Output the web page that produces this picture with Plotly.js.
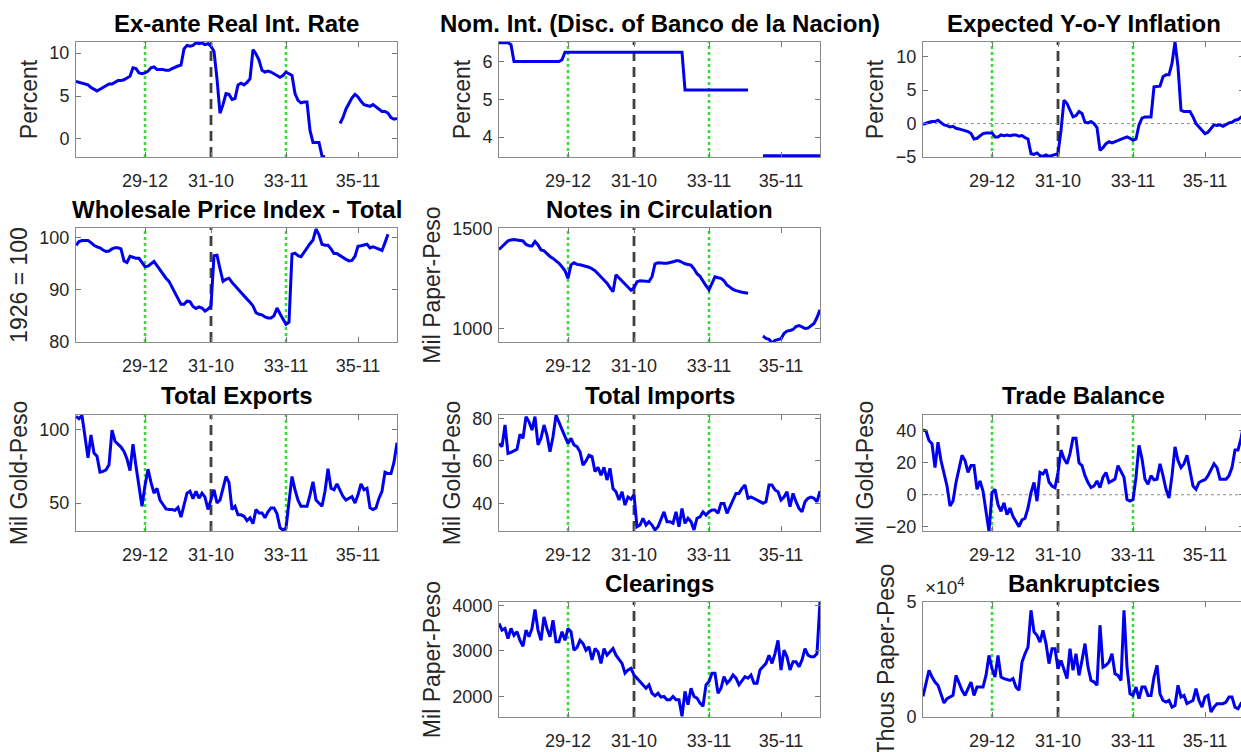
<!DOCTYPE html>
<html><head><meta charset="utf-8">
<script src="https://cdn.plot.ly/plotly-3.0.1.min.js"></script>
<style>html,body{margin:0;padding:0;overflow:hidden;background:#fff}#chart{width:1260px;height:752px}</style>
</head><body><div id="chart"></div>
<script>
// ---- categories (monthly, 1928-01 .. 1936-12) ----
const startYear = 1928, nMonths = 108;
const months = [];
for (let i = 0; i < nMonths; i++) {
  const y = startYear + Math.floor(i / 12), m = i % 12 + 1;
  months.push(String(y % 100).padStart(2, '0') + '-' + String(m).padStart(2, '0'));
}
const tickLabels = ['29-12', '31-10', '33-11', '35-11'];
const greenEvents = ['29-12', '33-11'];
const blackEvents = ['31-10'];

// ---- series ----
const realRate = [6.7,6.6,6.5,6.4,6.3,6.0,5.8,5.6, 5.8,6.0,6.2,6.4,6.4,6.6,6.8,6.8, 6.9,7.1,7.3,8.3,8.2,7.7,7.6,7.7,
 7.9,8.3,8.4,8.1,8.1,8.1,8.0,8.0, 8.2,8.4,8.5,8.6,10.5,10.9,10.8,10.9, 11.2,11.1,11.2,11.0,11.1,10.8,
 10.2,7.0,3.0,4.0,5.3,5.2,4.6,4.7, 6.3,6.5,6.3,6.6,7.0,10.4,9.9,9.2, 8.0,7.8,7.9,7.8,7.6,7.4,7.2,7.4,
 7.8,7.6,7.4,5.3,4.5,4.2,4.3,4.3, 1.0,-0.4,-0.4,-0.4,-2.0,-2.1, null,null,null,null, 1.8,2.5,3.5,4.2,
 4.8,5.2,4.9,4.4,4.0,3.9,3.8,4.0, 3.7,3.5,3.2,3.2,3.0,2.5,2.3,2.4];

const nomRate = [6.5,6.5,6.5,6.5,6.45,
 6.0,6.0,6.0,6.0,6.0,6.0,6.0,6.0,6.0,6.0,6.0,6.0,6.0,6.0,6.0,6.0,
 6.05,
 6.25,6.25,6.25,6.25,6.25,6.25,6.25,6.25,6.25,6.25,6.25,6.25,6.25,6.25,6.25,6.25,6.25,6.25,6.25,6.25,
 6.25,6.25,6.25,6.25,6.25,6.25,6.25,6.25,6.25,6.25,6.25,6.25,6.25,6.25,6.25,6.25,6.25,6.25,6.25,6.25,
 5.25,5.25,5.25,5.25,5.25,5.25,5.25,5.25,5.25,5.25,5.25,5.25,5.25,5.25,5.25,5.25,5.25,5.25,5.25,5.25,5.25,5.25,
 null,null,null,null,
 3.5,3.5,3.5,3.5,3.5,3.5,3.5,3.5,3.5,3.5,3.5,3.5,3.5,3.5,3.5,3.5,3.5,3.5,3.5,3.5];

const expInflation = [-0.1,0.1,0.2,0.3,0.3,0.5,0.1,-0.2, -0.3,-0.5,-0.4,-0.7,-0.8,-0.9,-1.0,-1.2,
 -1.5,-2.3,-2.2,-1.8,-1.5,-1.4,-1.4,-1.4, -2.0,-2.0,-1.7,-1.8,-1.7,-1.8,-1.7,-1.7,
 -1.9,-1.8,-2.1,-2.3,-4.5,-4.6,-4.4,-4.8, -4.9,-4.7,-4.9,-4.8,-4.7,-4.5,-1.0,3.5,
 3.0,2.0,1.0,1.2,1.8,1.5,0.2,0.1, 0.3,0.0,-0.6,-4.0,-3.6,-3.0,-2.7,-2.9,
 -2.7,-2.6,-2.4,-2.1,-2.0,-2.2,-2.5,-2.3, -0.2,0.8,1.0,1.0,1.0,5.5,5.6,5.6,
 7.0,7.3,7.3,9.0,12.2,8.5,2.0,1.8, 1.8,1.8,1.0,0.0,-0.5,-1.0,-1.5,-1.3,
 -0.8,-0.2,-0.3,-0.2,-0.4,-0.1,0.1,0.2, 0.5,0.6,1.0,1.3];

const wpi = [98.5,99.2,99.4,99.4,99.4,99.0,98.5,98.2, 98.0,97.6,97.3,97.4,97.8,98.0,98.0,97.8,
 95.5,95.2,96.4,96.2,96.0,96.0,95.3,94.4, 94.5,95.0,95.4,94.6,93.8,92.8,92.2,91.6,
 90.5,89.5,88.3,87.2,87.2,87.8,87.7,86.8, 86.4,86.7,86.5,85.9,86.3,86.9,96.5,96.6,
 94.0,91.6,92.0,92.2,91.4,90.8,90.0,89.4, 88.8,88.2,87.6,86.9,85.6,85.3,85.2,84.8,
 84.6,84.6,85.0,86.5,85.4,84.4,83.4,83.8, 96.8,97.0,96.5,96.3,97.2,98.0,98.8,99.5,
 101.6,100.5,98.7,98.5,98.5,97.8,96.9,96.9, 96.5,96.2,95.8,95.5,95.6,96.4,98.3,98.4,
 98.6,98.7,98.0,98.2,98.0,97.8,97.5,99.0, 100.6,null,null,null];

const notes = [1397,1412,1430,1440,1445,1447,1445,1443, 1440,1422,1416,1415,1437,1420,1395,1390,
 1375,1362,1352,1342,1328,1310,1290,1252, 1320,1330,1322,1320,1316,1314,1308,1300,
 1290,1275,1260,1242,1228,1205,1185,1270, 1255,1240,1225,1210,1192,1205,1235,1240,
 1238,1236,1236,1260,1325,1330,1328,1328, 1328,1330,1335,1340,1340,1333,1325,1322,
 1318,1300,1275,1262,1235,1215,1194,1225, 1260,1255,1252,1240,1218,1208,1196,1190,
 1185,1182,1180,1177,null,null,null,null, 962,950,945,928,940,945,948,975,
 987,990,995,1010,1015,1008,1000,1002, 1012,1025,1055,1094];

const exportsTot = [108.8,107.3,109.5,95,80.7,96.2,84,81.8, 71,71.5,72.5,76,99.5,92,90,88,
 85,80,72,90,75,62,47.8,62, 73,64,56.7,60,52,49,46,45.6,
 45.6,45.0,47.0,40.4,49.0,56.7,58.0,53.0, 58.0,53.3,56.7,54.0,45.6,52.0,59.0,50.0,
 52.0,60.0,68.0,64.0,45.6,47.8,42.0,42.0, 41.0,38.0,40.0,36.0,45.6,43.3,43.3,40.0,
 44.0,46.7,46.7,42.7,33.3,31.6,33.0,51.0, 68.0,59.0,52.0,47.8,47.8,47.8,55.6,64.4,
 52.0,50.0,47.8,58.0,73.3,60.0,59.0,63.0, 59.0,54.4,52.0,53.0,54.4,50.0,55.6,63.0,
 59.0,60.0,46.7,45.6,46.7,53.3,58.0,71.0, 70.0,70.0,77.8,91.0];

const importsTot = [68.2,66.7,76.9,63.5,64.0,64.6,65.5,72.5, 70.6,80.8,78.4,74.5,80.8,67.5,70.6,76.9,
 72.0,64.3,71.4,81.5,78.4,75.3,71.4,68.2, 70.6,67.5,66.7,64.3,58.0,60.0,62.7,62.0,
 55.0,57.0,53.3,57.0,51.0,56.5,47.0,45.5, 41.6,45.5,39.2,43.0,42.0,44.0,29.0,29.8,
 33.0,29.8,31.4,29.8,27.5,29.0,33.0,36.0, 31.4,31.4,30.6,36.0,29.0,37.6,30.6,33.0,
 31.4,27.5,33.0,33.7,36.0,34.5,36.0,36.9, 36.9,35.3,40.0,40.0,35.3,38.4,40.8,44.7,
 44.7,47.0,48.6,42.4,43.0,42.4,41.6,40.8, 40.0,40.8,48.6,48.6,46.3,45.5,41.6,43.0,
 45.5,38.4,44.7,40.8,37.6,36.0,40.8,42.4, 43.0,42.4,40.8,45.8];

const tradeBalance = [40.6,40.0,34.0,32.0,17.0,33.0,21.5,14.0, 5.5,-7.0,-4.0,7.7,17.0,24.7,21.5,14.0,
 18.3,18.3,3.4,8.7,2.3,-9.4,-23.0,1.3, 3.4,-6.2,-10.4,-5.0,-12.5,-8.3,-13.6,-16.8,
 -20.0,-15.7,-14.7,-8.3,1.3,7.7,-4.0,14.0, 13.0,16.0,8.0,5.5,4.5,14.0,28.0,22.6,
 19.4,25.8,35.4,35.4,20.0,18.3,12.0,7.7, 4.5,5.5,8.7,4.5,11.0,14.0,7.7,8.7,
 9.8,18.3,15.0,11.0,-3.0,-4.0,-3.0,11.0, 31.0,22.6,9.8,6.6,12.0,9.4,9.8,19.4,
 12.0,3.4,-2.0,12.0,30.0,21.5,17.0,19.4, 24.7,14.0,5.5,3.4,7.7,8.7,9.4,12.0,
 16.0,19.4,17.0,9.8,9.8,9.8,12.0,17.0, 28.0,28.0,35.4,45.0];

const clearings = [3600,3455,3490,3270,3490,3340,3420,3230, 3100,3455,3310,3490,3905,3455,3230,3745,
 3490,3310,3670,3200,3200,3420,3230,3490, 3420,3015,3070,3230,3160,3015,3090,2800,
 3050,2980,2725,3050,2905,2980,3050,2905, 2800,2725,2510,2580,2615,2470,2400,2325,
 2255,2180,2255,2070,2015,2070,1985,2000, 1930,1930,2000,1930,1930,1565,2110,1820,
 2180,2000,1965,1855,1785,2255,2325,2510, 2510,2070,2180,2435,2290,2360,2470,2400,
 2255,2360,2435,2400,2470,2290,2290,2580, 2650,2725,2905,2725,2940,3230,2580,3015,
 2870,2580,2760,2760,2650,2800,3050,2905, 2870,2870,2940,4070];

const bankruptcies = [9000,14500,20300,17400,15200,13800,10100,6100, 8000,8700,9400,18100,14500,11600,9400,12300,
 15200,9400,13000,13000,13000,18100,26800,21000, 17400,26800,17400,16700,16200,15900,16700,13000,
 11600,23900,27500,30400,46400,37000,35500,32600, 37700,31900,23200,29700,29700,21000,24600,21000,
 16700,29700,20300,27500,18100,24600,31900,21700, 15900,15200,13800,39900,21700,22500,23900,27500,
 18800,18100,15900,46400,21700,10100,9400,13000, 8000,13000,13000,9400,9400,17400,22500,10100,
 7200,6500,7200,4300,5000,13800,8700,9400, 5800,6500,7200,12300,7200,4300,8700,9400,
 2200,4300,5800,5800,5800,6500,8700,8700, 4300,3600,5800,5000];

// ---- panel definitions ----
const panels = [
  {title:'Ex-ante Real Int. Rate', ytitle:'Percent', y:realRate, row:0, col:0, range:[-2.1,11.3], tv:[0,5,10]},
  {title:'Nom. Int. (Disc. of Banco de la Nacion)', ytitle:'Percent', y:nomRate, row:0, col:1, range:[3.47,6.52], tv:[4,5,6]},
  {title:'Expected Y-o-Y Inflation', ytitle:'Percent', y:expInflation, row:0, col:2, range:[-5,12.2], tv:[-5,0,5,10], zero:true},
  {title:'Wholesale Price Index - Total', ytitle:'1926 = 100', y:wpi, row:1, col:0, range:[80,101.8], tv:[80,90,100]},
  {title:'Notes in Circulation', ytitle:'Mil Paper-Peso', y:notes, row:1, col:1, range:[932,1505], tv:[1000,1500]},
  {title:'Total Exports', ytitle:'Mil Gold-Peso', y:exportsTot, row:2, col:0, range:[31,109.8], tv:[50,100]},
  {title:'Total Imports', ytitle:'Mil Gold-Peso', y:importsTot, row:2, col:1, range:[27,81.6], tv:[40,60,80]},
  {title:'Trade Balance', ytitle:'Mil Gold-Peso', y:tradeBalance, row:2, col:2, range:[-22.7,50], tv:[-20,0,20,40], zero:true},
  {title:'Clearings', ytitle:'Mil Paper-Peso', y:clearings, row:3, col:1, range:[1550,4070], tv:[2000,3000,4000]},
  {title:'Bankruptcies', ytitle:'Thous Paper-Peso', y:bankruptcies, row:3, col:2, range:[0,50000], tv:[0,50000], tt:['0','5'], exp:true}
];

const W = 1260, H = 752;
const colPx = [[76,397],[499,820],[923,1244]];
const rowPx = [[42,157],[228,342],[415,531],[602,717]];
const FONT = 'Liberation Sans, Arial, Helvetica, sans-serif';
const TXT = '#262626';

const traces = [], shapes = [], annotations = [];
const layout = {
  width: W, height: H, margin:{l:0,r:0,t:0,b:0},
  paper_bgcolor:'#fff', plot_bgcolor:'#fff', showlegend:false,
  font:{family:FONT, color:TXT}
};

panels.forEach((p, i) => {
  const k = i + 1, sx = k === 1 ? '' : String(k);
  const [c0, c1] = colPx[p.col], [r0, r1] = rowPx[p.row];
  layout['xaxis' + sx] = {
    domain:[c0 / W, c1 / W], anchor:'y' + sx, type:'category',
    range:[0, nMonths - 1], tickmode:'array', tickvals:tickLabels,
    ticks:'inside', ticklen:5, tickwidth:1, tickcolor:'#777',
    showline:true, linecolor:'#8a8a8a', linewidth:1, mirror:'ticks',
    showgrid:false, zeroline:false, fixedrange:true, ticklabelstandoff:7,
    tickfont:{size:18, color:TXT, family:FONT}
  };
  const ya = {
    domain:[1 - r1 / H, 1 - r0 / H], anchor:'x' + sx,
    range:p.range, tickmode:'array', tickvals:p.tv,
    ticks:'inside', ticklen:5, tickwidth:1, tickcolor:'#777',
    showline:true, linecolor:'#8a8a8a', linewidth:1, mirror:'ticks',
    showgrid:false, zeroline:false, fixedrange:true, ticklabelstandoff:2,
    tickfont:{size:18, color:TXT, family:FONT},
    title:{text:p.ytitle, font:{size:23, color:TXT, family:FONT}, standoff:5}
  };
  if (p.tt) ya.ticktext = p.tt;
  layout['yaxis' + sx] = ya;

  traces.push({
    x: months, y: p.y, type:'scatter', mode:'lines',
    line:{color:'#0000ee', width:3}, connectgaps:false,
    xaxis:'x' + sx, yaxis:'y' + sx, hoverinfo:'skip'
  });

  greenEvents.forEach(ev => {
    const xi = months.indexOf(ev);
    shapes.push({type:'line', layer:'below', xref:'x' + sx, yref:'y' + sx + ' domain',
      x0:xi, x1:xi, y0:0, y1:1, line:{color:'#33dd33', width:2.5, dash:'dot'}});
  });
  blackEvents.forEach(ev => {
    const xi = months.indexOf(ev);
    shapes.push({type:'line', layer:'below', xref:'x' + sx, yref:'y' + sx + ' domain',
      x0:xi, x1:xi, y0:0, y1:1, line:{color:'#404040', width:2.8, dash:'10px,6px'}});
  });
  if (p.zero) {
    shapes.push({type:'line', layer:'below', xref:'x' + sx + ' domain', yref:'y' + sx,
      x0:0, x1:1, y0:0, y1:0, line:{color:'#8c8c8c', width:1, dash:'dot'}});
  }

  annotations.push({
    xref:'paper', yref:'paper', x:(c0 + c1) / 2 / W, y:1 - (r0 - 19) / H,
    xanchor:'center', yanchor:'middle', showarrow:false,
    text:'<b>' + p.title + '</b>', font:{size:24, color:'#000', family:FONT}
  });
  if (p.exp) {
    annotations.push({
      xref:'paper', yref:'paper', x:c0 / W, y:1 - (r0 - 2) / H,
      xanchor:'left', yanchor:'bottom', showarrow:false,
      text:'×10<sup>4</sup>', font:{size:19, color:TXT, family:FONT}
    });
  }
});

layout.shapes = shapes;
layout.annotations = annotations;

Plotly.newPlot('chart', traces, layout, {displayModeBar:false, staticPlot:true});
</script>
</body></html>
